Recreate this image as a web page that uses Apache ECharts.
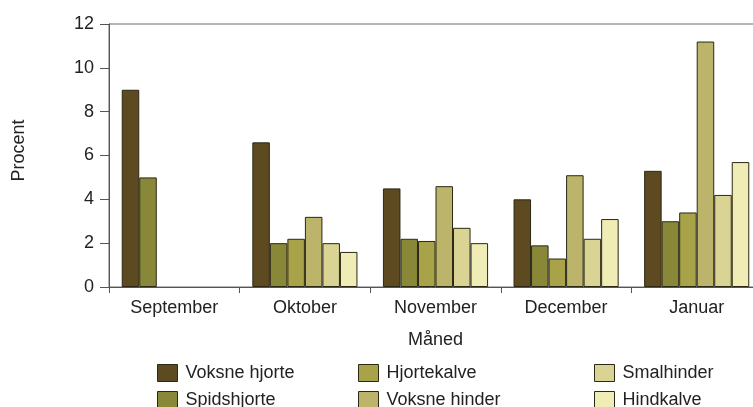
<!DOCTYPE html>
<html lang="da">
<head>
    <meta charset="UTF-8">
    <title>Procent pr. måned</title>
    <script src="https://cdn.jsdelivr.net/npm/echarts@6/dist/echarts.min.js"></script>
    <style>
        html, body { margin: 0; padding: 0; background: #fff; }
    </style>
</head>
<body>

<div id="main" style="width: 753px;height:407px;"></div>

<script type="text/javascript">
    // data
    var months = ['September', 'Oktober', 'November', 'December', 'Januar'];
    var voksneHjorte = [9.0, 6.6, 4.5, 4.0, 5.3];
    var spidshjorte = [5.0, 2.0, 2.2, 1.9, 3.0];
    var hjortekalve = [null, 2.2, 2.1, 1.3, 3.4];
    var voksneHinder = [null, 3.2, 4.6, 5.1, 11.2];
    var smalhinder = [null, 2.0, 2.7, 2.2, 4.2];
    var hindkalve = [null, 1.6, 2.0, 3.1, 5.7];
    var yTicks = [0, 2, 4, 6, 8, 10, 12];

    var names = ['Voksne hjorte', 'Spidshjorte', 'Hjortekalve', 'Voksne hinder', 'Smalhinder', 'Hindkalve'];
    var values = [voksneHjorte, spidshjorte, hjortekalve, voksneHinder, smalhinder, hindkalve];
    var colors = ['#5e4a20', '#898839', '#a8a248', '#bbb46a', '#dad494', '#f0ecb5'];

    var font = 'Liberation Sans, Arial, sans-serif';
    var myChart = echarts.init(document.getElementById('main'));

    var series = names.map(function (n, i) {
        return {
            name: n,
            type: 'bar',
            barGap: '0%',
            barCategoryGap: '19.5%',
            itemStyle: {
                color: colors[i],
                borderColor: '#2b2816',
                borderWidth: 1
            },
            data: values[i]
        };
    });

    // legend in three columns of two
    function legendAt(left, items) {
        return {
            orient: 'vertical',
            left: left,
            top: 364,
            height: 60,
            padding: 0,
            itemWidth: 20,
            itemHeight: 17,
            itemGap: 9,
            icon: 'rect',
            selectedMode: false,
            data: items,
            itemStyle: { borderColor: '#2b2816', borderWidth: 1 },
            textStyle: { fontFamily: font, fontSize: 18, lineHeight: 17, color: '#222', padding: [0, 0, 0, 3] }
        };
    }

    myChart.setOption({
        animation: false,
        textStyle: { fontFamily: font },
        color: colors,
        grid: {
            left: 109,
            right: -9,   // plot runs past the right edge
            top: 24,
            bottom: 120,
            containLabel: false,
            outerBoundsMode: 'none',
            show: true,
            borderColor: '#6a6a6a',
            borderWidth: 1
        },
        legend: [
            legendAt(157, [names[0], names[1]]),
            legendAt(358, [names[2], names[3]]),
            legendAt(594, [names[4], names[5]])
        ],
        xAxis: {
            type: 'category',
            data: months,
            name: 'Måned',
            nameLocation: 'middle',
            nameGap: 44,
            nameTextStyle: { fontSize: 18, color: '#222' },
            axisLine: { lineStyle: { color: '#555', width: 1 } },
            axisTick: { show: true, length: 6, lineStyle: { color: '#555' } },
            axisLabel: { fontSize: 18, color: '#222', margin: 12 },
            splitLine: { show: false }
        },
        yAxis: {
            type: 'value',
            min: yTicks[0],
            max: yTicks[yTicks.length - 1],
            interval: 2,
            name: 'Procent',
            nameLocation: 'middle',
            nameGap: 81,
            nameTextStyle: { fontSize: 18, color: '#222', padding: [0, 0, 0, 10] },
            axisLine: { show: true, lineStyle: { color: '#555', width: 1 } },
            axisTick: { show: true, length: 9, lineStyle: { color: '#555' } },
            axisLabel: { fontSize: 18, color: '#222', margin: 15 },
            splitLine: { show: false }
        },
        series: series
    });
</script>

</body>
</html>
